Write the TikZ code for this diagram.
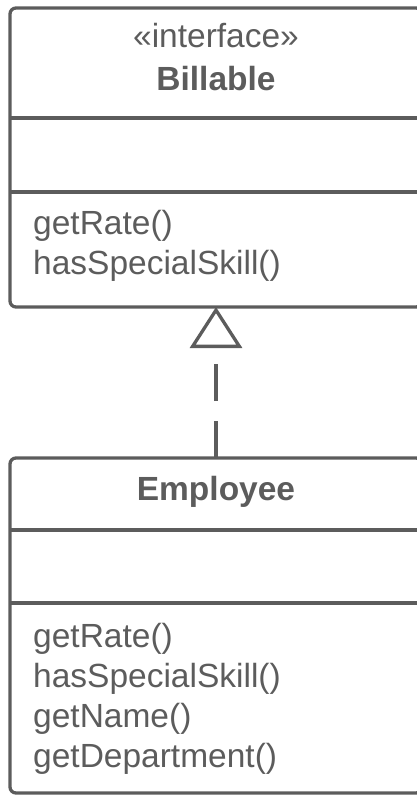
\documentclass[tikz,border=0pt]{standalone}
\usepackage{fontspec}
\setmainfont{Liberation Sans}
\usepackage{xcolor}
\usetikzlibrary{arrows.meta, positioning}
\definecolor{umlgray}{RGB}{92,92,92}

\begin{document}
\begin{tikzpicture}[x=1pt, y=-1pt,
    classbox/.style={rectangle, draw=umlgray, line width=3.3pt, rounded corners=6pt, minimum width=412pt, inner sep=0pt, outer sep=0pt, anchor=north west},
    divider/.style={draw=umlgray, line width=3.3pt},
    classname/.style={font=\fontsize{33.5}{40}\selectfont\bfseries, text=umlgray, inner sep=0pt, anchor=base},
    stereotype/.style={font=\fontsize{33.5}{40}\selectfont, text=umlgray, inner sep=0pt, anchor=base},
    method/.style={font=\fontsize{33.5}{40}\selectfont, text=umlgray, inner sep=0pt, anchor=base west},
    realize/.style={draw=umlgray, line width=3.3pt, dash pattern=on 37pt off 20pt, -{Triangle[open, length=41pt, width=52pt, line width=3.3pt]}}]

    \useasboundingbox (0,0) rectangle (417,796);

    % interface Billable
    \node [classbox, minimum height=299pt] (billable) at (10,8) {};
    \draw [divider] (billable.west |- 0,118) -- (billable.east |- 0,118);
    \draw [divider] (billable.west |- 0,192) -- (billable.east |- 0,192);
    \node [stereotype] (stereo) at (216,47) {«interface»};
    \node [classname] (bname) at (216,90) {Billable};
    \node [method] (bm1) at (33,234) {getRate()};
    \node [method] (bm2) at (33,274) {hasSpecialSkill()};

    % class Employee
    \node [classbox, minimum height=335pt] (employee) at (10,458) {};
    \draw [divider] (employee.west |- 0,530) -- (employee.east |- 0,530);
    \draw [divider] (employee.west |- 0,603) -- (employee.east |- 0,603);
    \node [classname] (ename) at (216,500) {Employee};
    \node [method] (em1) at (33,647) {getRate()};
    \node [method] (em2) at (33,687) {hasSpecialSkill()};
    \node [method] (em3) at (33,727) {getName()};
    \node [method] (em4) at (33,767) {getDepartment()};

    % realization
    \draw [realize] (employee.north) -- (billable.south);

\end{tikzpicture}
\end{document}
